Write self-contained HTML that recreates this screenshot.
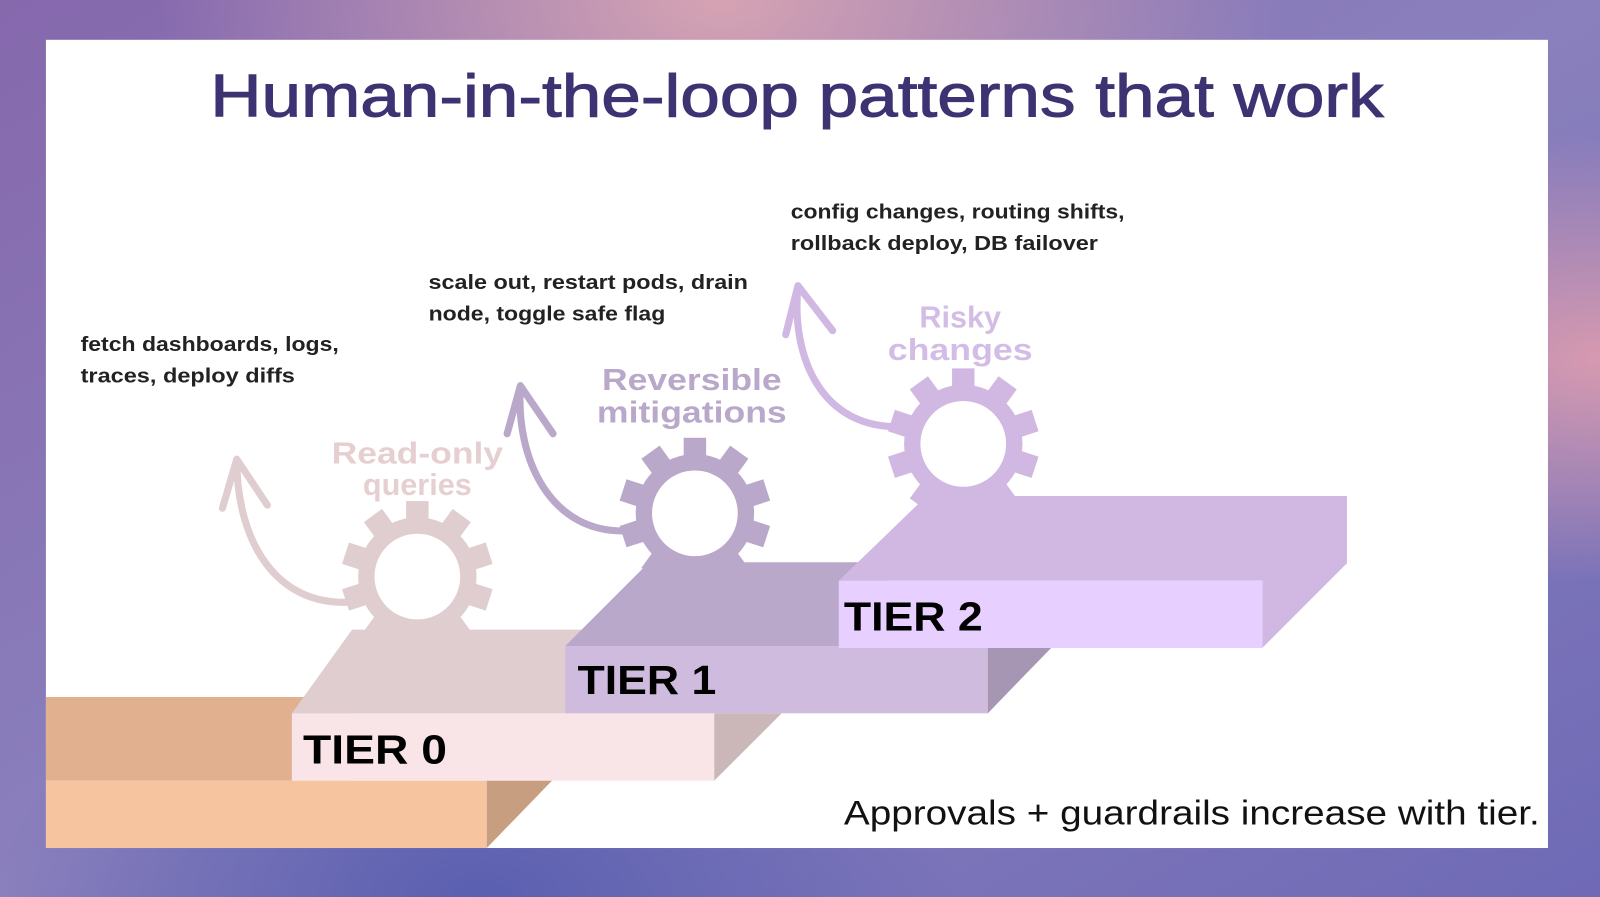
<!DOCTYPE html>
<html><head><meta charset="utf-8"><style>
html,body{margin:0;padding:0;width:1600px;height:897px;overflow:hidden}
svg{display:block}
text{font-family:"Liberation Sans",sans-serif}
</style></head><body>
<svg width="1600" height="897" viewBox="0 0 1568 879" preserveAspectRatio="none" xmlns="http://www.w3.org/2000/svg">
<defs>
<linearGradient id="bg" x1="0" y1="0" x2="1" y2="1">
<stop offset="0" stop-color="#8668ad"/>
<stop offset="0.5" stop-color="#8a80bd"/>
<stop offset="1" stop-color="#6f6ab6"/>
</linearGradient>
<radialGradient id="p1" cx="0.45" cy="0" r="0.35"><stop offset="0" stop-color="#d6a3b3"/><stop offset="1" stop-color="#d6a3b3" stop-opacity="0"/></radialGradient>
<radialGradient id="p2" cx="1" cy="0.4" r="0.25"><stop offset="0" stop-color="#d79ab0"/><stop offset="1" stop-color="#d79ab0" stop-opacity="0"/></radialGradient>
<radialGradient id="p3" cx="0.3" cy="1" r="0.3"><stop offset="0" stop-color="#5a5fb0"/><stop offset="1" stop-color="#5a5fb0" stop-opacity="0"/></radialGradient>
<g id="gear">
<circle r="58"/>
<rect x="-11" y="-74" width="22" height="26"/>
<rect x="-11" y="-74" width="22" height="26" transform="rotate(36)"/>
<rect x="-11" y="-74" width="22" height="26" transform="rotate(72)"/>
<rect x="-11" y="-74" width="22" height="26" transform="rotate(108)"/>
<rect x="-11" y="-74" width="22" height="26" transform="rotate(144)"/>
<rect x="-11" y="-74" width="22" height="26" transform="rotate(180)"/>
<rect x="-11" y="-74" width="22" height="26" transform="rotate(216)"/>
<rect x="-11" y="-74" width="22" height="26" transform="rotate(252)"/>
<rect x="-11" y="-74" width="22" height="26" transform="rotate(288)"/>
<rect x="-11" y="-74" width="22" height="26" transform="rotate(324)"/>
</g>
</defs>
<rect width="1568" height="879" fill="url(#bg)"/>
<rect width="1568" height="879" fill="url(#p1)"/>
<rect width="1568" height="879" fill="url(#p2)"/>
<rect width="1568" height="879" fill="url(#p3)"/>
<rect x="45" y="39" width="1472" height="792" fill="#fff"/>

<text x="781" y="114" text-anchor="middle" font-size="59" fill="#3d3373" stroke="#3d3373" stroke-width="1" textLength="1150" lengthAdjust="spacingAndGlyphs">Human-in-the-loop patterns that work</text>

<g font-size="20" font-weight="bold" fill="#222">
<text x="79" y="344" textLength="253" lengthAdjust="spacingAndGlyphs">fetch dashboards, logs,</text>
<text x="79" y="375" textLength="210" lengthAdjust="spacingAndGlyphs">traces, deploy diffs</text>
<text x="420" y="283" textLength="313" lengthAdjust="spacingAndGlyphs">scale out, restart pods, drain</text>
<text x="420" y="314" textLength="232" lengthAdjust="spacingAndGlyphs">node, toggle safe flag</text>
<text x="775" y="214" textLength="327" lengthAdjust="spacingAndGlyphs">config changes, routing shifts,</text>
<text x="775" y="245" textLength="301" lengthAdjust="spacingAndGlyphs">rollback deploy, DB failover</text>
</g>

<g fill="none" stroke-width="7" stroke-linecap="round" stroke-linejoin="round">
<path d="M345 590 C270 595 232 530 232 450 M218 498 L232 450 L262 495" stroke="#e0cdd0"/>
<path d="M617 520 C540 525 505 450 510 378 M497 425 L510 378 L542 425" stroke="#b9a8c9"/>
<path d="M882 418 C805 420 775 350 782 280 M770 328 L782 280 L816 324" stroke="#d0b8e2"/>
</g>

<g fill="#e0cdd0" transform="translate(409,565)"><use href="#gear"/><circle r="42" fill="#fff"/></g>
<g fill="#b9a8c9" transform="translate(681,503)"><use href="#gear"/><circle r="42" fill="#fff"/></g>
<g fill="#d0b8e2" transform="translate(944,435)"><use href="#gear"/><circle r="42" fill="#fff"/></g>

<rect x="45" y="683" width="300" height="82" fill="#e0b08f"/>
<rect x="45" y="765" width="432" height="66" fill="#f7c4a0"/>
<polygon points="477,765 541,765 477,831" fill="#c89e80"/>

<polygon points="286,699 345,617 600,617 600,699" fill="#e0cdd0"/>
<rect x="286" y="699" width="414" height="66" fill="#f9e4e8"/>
<polygon points="700,699 766,699 700,765" fill="#cbb7b8"/>

<polygon points="554,633 636,551 870,551 870,633" fill="#b9a8c9"/>
<rect x="554" y="633" width="414" height="66" fill="#cfbbde"/>
<polygon points="968,633 1032,633 968,699" fill="#a796b3"/>

<polygon points="822,569 908,486 1320,486 1320,552 1237,635 1237,569" fill="#d0b8e2"/>
<rect x="822" y="569" width="415" height="66" fill="#e7cfff"/>

<g font-size="40" font-weight="bold" fill="#000">
<text x="297" y="748" textLength="141" lengthAdjust="spacingAndGlyphs">TIER 0</text>
<text x="566" y="680" textLength="136" lengthAdjust="spacingAndGlyphs">TIER 1</text>
<text x="827" y="618" textLength="136" lengthAdjust="spacingAndGlyphs">TIER 2</text>
</g>

<g font-size="30" font-weight="bold" text-anchor="middle">
<text x="409" y="454" fill="#e6cfd0" textLength="168" lengthAdjust="spacingAndGlyphs">Read-only</text>
<text x="409" y="485" fill="#e6cfd0">queries</text>
<text x="678" y="382" fill="#b9a8c9" textLength="176" lengthAdjust="spacingAndGlyphs">Reversible</text>
<text x="678" y="414" fill="#b9a8c9" textLength="186" lengthAdjust="spacingAndGlyphs">mitigations</text>
<text x="941" y="321" fill="#d3bde6">Risky</text>
<text x="941" y="353" fill="#d3bde6" textLength="142" lengthAdjust="spacingAndGlyphs">changes</text>
</g>

<text x="827" y="808" font-size="34" fill="#111" textLength="682" lengthAdjust="spacingAndGlyphs">Approvals + guardrails increase with tier.</text>
</svg>
</body></html>
